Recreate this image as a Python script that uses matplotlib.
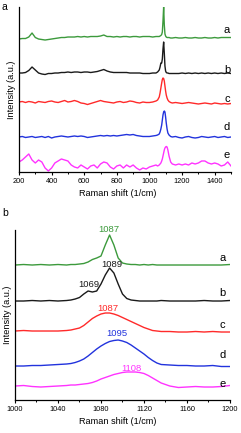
import matplotlib
matplotlib.use('Agg')
import matplotlib.pyplot as plt
from matplotlib.ticker import MultipleLocator
import numpy as np

plt.rcParams['font.family'] = ['Liberation Sans', 'DejaVu Sans']

# colours of the five spectra a-e
colors = ['#3c9a3c', '#1a1a1a', '#ff2a2a', '#2233dd', '#ff33ff']
trace_names = ['a', 'b', 'c', 'd', 'e']

# ---------- panel a : full spectra (200-1500 1/cm) ----------
shift_a = [200, 220, 240, 260, 280, 300, 320, 340, 360, 380, 400, 420, 440, 460, 480,
           500, 520, 540, 560, 580, 600, 620, 640, 660, 680, 700, 720, 740, 760, 780,
           800, 820, 840, 860, 880, 900, 920, 940, 960, 980, 1000, 1020, 1040, 1050,
           1060, 1065, 1070, 1075, 1079, 1083, 1087, 1091, 1095, 1099, 1103, 1108,
           1113, 1120, 1130, 1140, 1160, 1180, 1200, 1220, 1240, 1260, 1280, 1300,
           1320, 1340, 1360, 1380, 1400, 1420, 1440, 1460, 1480, 1500]

int_a_a = [0, 0.5, 0.5, 2, 6, 1.5, 0, -0.5, -1, -0.5, 0, 0.5, 1, 1.5, 1.5,
           2, 2, 2, 2.5, 2, 2.5, 2, 2.5, 2.5, 2.5, 3, 4, 2.5, 2.5, 2,
           2.5, 2, 2.5, 2.5, 2, 2.5, 2.5, 2, 2.5, 2.5, 2.5, 2, 2.5, 2.5,
           2.5, 3, 3.5, 4.5, 7, 18, 32, 14, 5, 3, 2, 1.5,
           1.5, 1.5, 1, 1, 1.5, 1, 1, 1.5, 1, 1, 1.5, 1,
           1, 1.5, 1, 1, 1.5, 1, 1.5, 1.5, 1.5, 1.5]
int_a_b = [0, 0, 0.5, 2.5, 6, 3, 0, -1, -1.5, -0.5, -0.5, 0, 0, 0.5, 0.5,
           1, 0.5, 1, 1, 0.5, 1, 1, 0.5, 1, 1.5, 2.5, 3.5, 2, 1, 0.5,
           0.5, 0.5, 0.5, 0.5, 0, 0, 0, 0, -0.5, -0.5, -0.5, 0, 0, 1,
           3, 6, 10, 10, 14, 24, 31, 20, 7, 2, 0.5, 0,
           0, -0.5, -0.5, -0.5, -0.5, -0.5, 0, -0.5, 0, -0.5, 0, -0.5,
           0, -0.5, 0, -0.5, 0, -0.5, 0, -0.5, 0, -0.5]
int_a_c = [0, 0.5, -0.5, 0.5, 0, -1, 0.5, 0, -0.5, 0.5, 1, 0, -0.5, 0.5, 1.5,
           0, 0.5, 1.5, 0.5, -1, -1.5, -2.5, -1.5, -0.5, 0.5, 1.5, 0.5, 0, -0.5, -1,
           0, 0.5, -0.5, 0, 1, 0.5, -0.5, -1, 0, -0.5, -0.5, 0, 1, 2,
           5, 9, 14, 19, 22.5, 24, 23.5, 21, 16, 11, 7, 4,
           2, 0.5, -0.5, -1, -0.5, -1, -1.5, -1, -0.5, -1, -1.5, -2,
           -1.5, -1, -1.5, -2, -1, -1.5, -2, -1.5, -2, -1.5]
int_a_d = [0, 0.5, -0.5, 0, 0.5, -0.5, 0, 0.5, -0.5, 0.5, -1, 0, 0.5, 1, 0.5,
           0, 0.5, 1, 0.5, 1, 0.5, -0.5, 0, 0.5, 1, 1.5, 1, 1.5, 1, 1.5,
           1, 1.5, 2, 2.5, 2, 2.5, 1.5, 1, 0.5, 0.5, 0.5, 1, 1.5, 2,
           3, 5, 8, 12, 17, 22, 25, 26, 25, 20, 14, 8,
           4, 2, 0.5, 0, 0.5, -0.5, -1, 0, 0.5, -0.5, -1, -0.5,
           0.5, 0, -0.5, 0, 0.5, -0.5, 0, 0.5, -0.5, 0]
int_a_e = [3, 5, 8, 11, 5, 2, 5, 3, -3, -6, -3, 2, 4, 6, 5,
           4, 0, -2, -3, 0, -2, -4, -1, 0, -3, 1, 3, 2, -2, -4,
           -1, 0, -3, 0, -2, 0, -3, -5, -3, -4, -2, -1, 0, -1,
           0, 1, 2, 4, 6, 9, 12, 15, 17, 18, 18.5, 18,
           15, 9, 3, 1, 0, 1, 0, 1, 0, 2, 1, 2,
           4, 4, 2, 1, 2, 1, -1, 0, 3, -1]
offsets_a = [133, 99, 70, 35, 7]
label_y_a = [142, 102, 73, 45, 17]

# ---------- panel b : zoom 1000-1200 1/cm ----------
shift_b = [1000, 1008, 1016, 1024, 1032, 1040, 1048, 1052, 1056, 1060, 1064, 1068,
           1072, 1076, 1080, 1084, 1088, 1092, 1096, 1100, 1104, 1108, 1112, 1116,
           1120, 1124, 1128, 1132, 1136, 1144, 1152, 1160, 1168, 1176, 1184, 1192, 1200]

int_b_a = [0, 0.5, 0, 0.5, 0, 0.5, 0, 0.5, 0.5, 1, 1.5, 3,
           5.5, 7, 9, 20, 30, 20, 7, 2, 1, 0.5, 0.5, 0,
           0.5, 0, 0.5, 0, 0, 0, 0, 0, 0, 0, 0, 0, 0.5]
int_b_b = [0, 0, 0.5, 0, 0.5, 0, 0.5, 1, 2, 3.5, 7, 10,
           9, 10, 17, 26, 33, 28, 17, 7, 2.5, 1, 0.5, 0,
           0, 0, 0, 0, 0.5, 0, 0, 0, 0, 0.5, 0, 0, 0.5]
int_b_c = [0, 0.5, 0, 0, 0, 0, 0.5, 1, 2, 3, 5.5, 9,
           12.5, 15, 17, 18, 18, 17, 15.5, 13.5, 11.5, 9.5, 7.5, 5.5,
           3.5, 2, 0.5, 0, -0.5, -0.5, -1, -1, -0.5, -1, -0.5, -1, -1]
int_b_d = [0, 0, 0.5, 0.5, 1, 1.5, 2, 2.5, 3.5, 5, 7, 10,
           13.5, 17, 20, 22.5, 24.5, 25.5, 26, 25, 23.5, 21, 18, 15,
           12, 8.5, 5.5, 3, 1.5, 1, 0.5, 0.5, 0, 0, 0.5, -0.5, -0.5]
int_b_e = [0, 0.5, -0.5, -1, -0.5, 0, 0.5, 1, 1, 1.5, 2, 2.5,
           3.5, 5, 7, 8.5, 10, 11.5, 12.5, 13.5, 14, 14, 14, 13.5,
           12.5, 10.5, 8, 5.5, 3, 0, -1.5, -1, -0.5, -1, -1, -0.5, 0.5]
offsets_b = [135, 99, 69, 34, 14]
label_y_b = [142, 107, 75, 45, 16]

# peak annotations in panel b
peak_text = ['1087', '1069', '1089', '1087', '1095', '1108']
peak_x = [1087, 1069, 1090, 1086, 1095, 1108]
peak_y = [171, 116, 136, 92, 67, 32]
peak_color = [0, 1, 1, 2, 3, 4]

fig = plt.figure(figsize=(2.41, 4.33), dpi=100)
ax1 = fig.add_axes([0.0788, 0.6028, 0.8797, 0.381])
ax2 = fig.add_axes([0.0622, 0.0762, 0.892, 0.3926])

for ints, off, col, name, ly in zip([int_a_a, int_a_b, int_a_c, int_a_d, int_a_e],
                                    offsets_a, colors, trace_names, label_y_a):
    ax1.plot(shift_a, np.array(ints) + off, color=col, lw=1.0)
    ax1.text(1475, ly, name, fontsize=8, ha='center', va='center')

for ints, off, col, name, ly in zip([int_b_a, int_b_b, int_b_c, int_b_d, int_b_e],
                                    offsets_b, colors, trace_names, label_y_b):
    ax2.plot(shift_b, np.array(ints) + off, color=col, lw=1.0)
    ax2.text(1193, ly, name, fontsize=8, ha='center', va='center')

for t, px, py, ci in zip(peak_text, peak_x, peak_y, peak_color):
    ax2.text(px, py, t, fontsize=6.8, ha='center', va='center', color=colors[ci])

ax1.set_xlim(200, 1500)
ax1.set_ylim(0, 165)
ax1.xaxis.set_major_locator(MultipleLocator(200))
ax1.xaxis.set_minor_locator(MultipleLocator(100))
ax2.set_xlim(1000, 1200)
ax2.set_ylim(0, 170)
ax2.xaxis.set_major_locator(MultipleLocator(40))
ax2.xaxis.set_minor_locator(MultipleLocator(20))

for ax in (ax1, ax2):
    ax.spines['top'].set_visible(False)
    ax.spines['right'].set_visible(False)
    ax.spines['left'].set_linewidth(0.9)
    ax.spines['bottom'].set_linewidth(0.9)
    ax.set_yticks([])
    ax.tick_params(axis='x', which='major', direction='out', length=2.5, width=0.8,
                   labelsize=5.3, pad=1.5)
    ax.tick_params(axis='x', which='minor', direction='out', length=1.5, width=0.7)
    ax.set_xlabel('Raman shift (1/cm)', fontsize=6.6, labelpad=2)
    ax.set_ylabel('Intensity (a.u.)', fontsize=6.6, labelpad=2)

ax1.xaxis.set_label_coords(0.467, -0.105)
ax2.xaxis.set_label_coords(0.479, -0.1)

fig.text(0.008, 0.995, 'a', fontsize=7.5, ha='left', va='top')
fig.text(0.008, 0.508, 'b', fontsize=7.5, ha='left', va='center')

fig.savefig('out.png', dpi=100)
